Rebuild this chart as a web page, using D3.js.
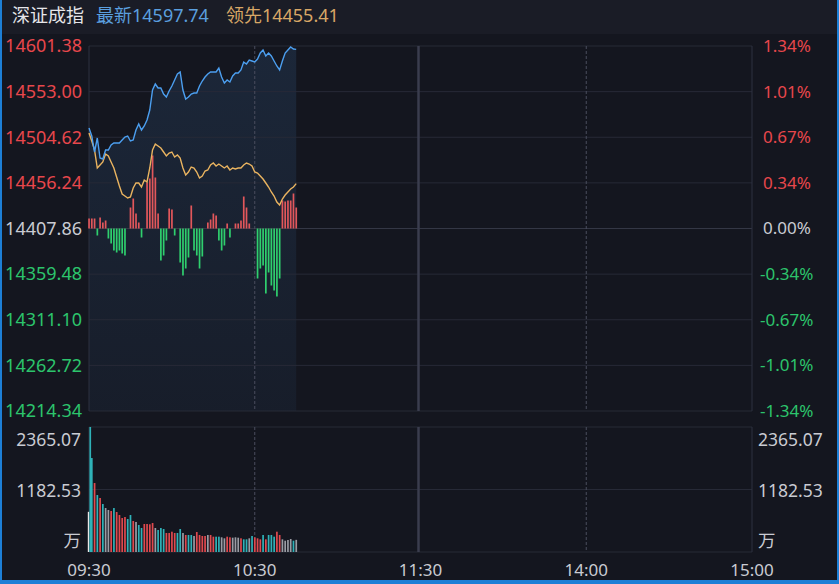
<!DOCTYPE html>
<html><head><meta charset="utf-8">
<script src="https://cdn.jsdelivr.net/npm/d3@7/dist/d3.min.js"></script>
<style>
html,body{margin:0;padding:0;background:#14161f;overflow:hidden;}
svg{display:block;}
text{font-family:"Noto Sans","Noto Sans CJK SC",sans-serif;}
</style></head>
<body><svg id="c" width="839" height="584"></svg>
<script>
// ---------- data ----------
const title = "深证成指";
const latestLabel = "最新", latestValue = "14597.74";
const leadLabel = "领先", leadValue = "14455.41";
const prevClose = 14407.86;
const priceTicks = [14601.38,14553.00,14504.62,14456.24,14407.86,14359.48,14311.10,14262.72,14214.34];
const priceTickLabels = ["14601.38","14553.00","14504.62","14456.24","14407.86","14359.48","14311.10","14262.72","14214.34"];
const pctTickLabels = ["1.34%","1.01%","0.67%","0.34%","0.00%","-0.34%","-0.67%","-1.01%","-1.34%"];
const timeTicks = [0,60,120,180,240];
const timeLabels = ["09:30","10:30","11:30","14:00","15:00"];
const volTicks = [2365.07,1182.53];
const volTickLabels = ["2365.07","1182.53"];
const volUnit = "万";
const auctionVol = 760;

const indexPrice = [14514.43,14505.94,14488.98,14503.82,14482.62,14481.55,14491.10,14491.10,14496.40,14498.52,
14498.52,14498.52,14501.70,14504.88,14505.94,14500.64,14501.70,14512.31,14518.67,14512.31,
14516.55,14522.91,14533.51,14554.72,14561.08,14556.84,14556.84,14550.48,14547.30,14553.66,
14558.96,14565.33,14571.69,14573.81,14554.72,14545.18,14547.30,14550.48,14551.54,14551.54,
14558.96,14564.27,14568.51,14571.69,14573.81,14573.81,14573.81,14578.05,14568.51,14562.15,
14565.33,14563.21,14569.57,14572.75,14572.75,14575.93,14584.41,14582.29,14586.53,14585.47,
14584.41,14587.59,14593.96,14597.14,14590.78,14593.96,14590.78,14585.47,14580.17,14575.93,
14585.47,14593.96,14597.14,14600.32,14598.20,14597.74];

const leadPrice = [14509.13,14500.64,14491.10,14472.01,14475.19,14478.37,14486.86,14484.74,14478.37,14472.01,
14462.47,14452.92,14444.44,14442.32,14440.20,14441.26,14450.80,14456.11,14456.11,14451.86,
14459.29,14457.17,14472.01,14491.10,14497.46,14495.34,14493.22,14488.98,14484.74,14487.92,
14488.98,14483.68,14485.80,14482.62,14472.01,14464.59,14467.77,14473.07,14472.01,14467.77,
14461.41,14463.53,14468.83,14469.89,14475.19,14477.31,14474.13,14476.25,14474.13,14472.01,
14474.13,14469.89,14472.01,14470.95,14472.01,14472.01,14475.19,14477.31,14476.25,14474.13,
14467.77,14466.71,14463.53,14460.35,14456.11,14451.86,14446.56,14442.32,14435.96,14432.78,
14439.14,14443.38,14446.56,14449.74,14451.86,14455.41];

const flow = [10,10,10,-7,11,6,8,-10,-15,-22,
-24,-22,-25,-27,0,21,30,15,6,-9,
0,46,50,73,51,15,-32,-27,-12,20,
19,-7,0,-34,-47,-40,-29,23,-22,-27,
-40,-28,0,6,9,15,13,-12,-22,-17,
5,-9,0,5,5,8,32,21,5,0,
0,-50,-40,-37,-65,-44,-57,-62,-68,-50,
28,27,28,28,35,21];

const volume = [2365,1778,1305,1078,1022,908,832,795,776,832,
757,700,643,662,624,700,587,568,511,454,
530,530,524,549,454,416,454,435,360,360,
384,360,360,435,360,322,322,322,303,378,
322,303,303,322,322,290,290,290,278,259,
290,278,271,278,271,259,240,240,259,303,
278,259,240,322,240,322,322,290,384,322,
240,214,227,246,214,230];
const volDir = "ttrtrtggrt rrrrttrgtt rrrrgtttrr rrttgrttgr rrrgrrttgg rrgggrttgt rrrtrtttrr ggggtg".replace(/ /g,"").split("");

// ---------- layout ----------
const L = 89, R = 752;
const mainTop = 46, mainBot = 411;
const volTop = 427, volBot = 552;

const svg = d3.select("#c");
const x = d3.scaleLinear().domain([0,240]).range([L,R]);
const y = d3.scaleLinear().domain([priceTicks[8],priceTicks[0]]).range([mainBot,mainTop]);
const yv = d3.scaleLinear().domain([0,volTicks[0]]).range([volBot,volTop]);
const fScale = d3.scaleLinear().domain([0,100]).range([0,100]);

const C = {bg:"#14161f", header:"#1a1c26", grid:"#272a37", border:"#2d3040",
  red:"#e8474c", green:"#2cc46c", white:"#c9cbd2", blue:"#4c9ff0", orange:"#eab460",
  teal:"#2fb2b8", vred:"#e0494e", gray:"#9a9ca4", frame:"#1d7fd6"};

svg.append("rect").attr("width",839).attr("height",584).attr("fill",C.bg);
svg.append("rect").attr("width",839).attr("height",34).attr("fill",C.header);

// header
const ht = svg.append("text").attr("x",12).attr("y",22).attr("font-size",18);
ht.append("tspan").attr("fill","#e6e6ea").text(title);
ht.append("tspan").attr("dx",12).attr("fill","#5a9fdf").text(latestLabel+latestValue);
ht.append("tspan").attr("dx",17).attr("fill","#d8a766").text(leadLabel+leadValue);

// gradient for area
const defs = svg.append("defs");
const g1 = defs.append("linearGradient").attr("id","ar").attr("x1",0).attr("y1",0).attr("x2",0).attr("y2",1);
g1.append("stop").attr("offset","0%").attr("stop-color","#4a8fd8").attr("stop-opacity",0.14);
g1.append("stop").attr("offset","100%").attr("stop-color","#4a8fd8").attr("stop-opacity",0.06);

// area under index line
svg.append("path").datum(indexPrice)
  .attr("d", d3.area().x((d,i)=>x(i)).y0(mainBot).y1(d=>y(d)))
  .attr("fill","url(#ar)");

// horizontal grid main
priceTicks.forEach((v,i)=>{
  svg.append("line").attr("x1",L).attr("x2",R).attr("y1",y(v)).attr("y2",y(v))
    .attr("stroke", i===4 ? "#343745" : C.grid).attr("stroke-width",1);
});
// volume grid
[volTop, yv(volTicks[1]), volBot].forEach(v=>{
  svg.append("line").attr("x1",L).attr("x2",R).attr("y1",v).attr("y2",v).attr("stroke",C.grid);
});
// verticals
[[mainTop,mainBot],[volTop,volBot]].forEach(([t,b])=>{
  svg.append("line").attr("x1",L).attr("x2",L).attr("y1",t).attr("y2",b).attr("stroke",C.border);
  svg.append("line").attr("x1",R).attr("x2",R).attr("y1",t).attr("y2",b).attr("stroke",C.border);
  svg.append("line").attr("x1",x(120)-2).attr("x2",x(120)-2).attr("y1",t).attr("y2",b).attr("stroke","#3a3d4e").attr("stroke-width",2.5);
  [60,180].forEach(m=>{
    svg.append("line").attr("x1",x(m)).attr("x2",x(m)).attr("y1",t).attr("y2",b)
      .attr("stroke","#4a4d5e").attr("stroke-dasharray","3,2");
  });
});

// flow bars
const base = y(prevClose);
svg.append("g").selectAll("rect").data(flow).join("rect")
  .attr("x",(d,i)=>x(i)-0.8).attr("width",1.7)
  .attr("y",d=> d>=0 ? base - fScale(d) : base)
  .attr("height",d=>fScale(Math.abs(d)))
  .attr("fill",d=> d>=0 ? "#e2575b" : "#2fcf6e");

// lines
svg.append("path").datum(leadPrice)
  .attr("d", d3.line().x((d,i)=>x(i)).y(d=>y(d)))
  .attr("fill","none").attr("stroke",C.orange).attr("stroke-width",1.4);
svg.append("path").datum(indexPrice)
  .attr("d", d3.line().x((d,i)=>x(i)).y(d=>y(d)))
  .attr("fill","none").attr("stroke",C.blue).attr("stroke-width",1.4);

// volume bars
svg.append("rect").attr("x",x(0)-1.2).attr("width",1.4).attr("y",yv(auctionVol)).attr("height",volBot-yv(auctionVol)).attr("fill","#e8e8e8");
svg.append("g").selectAll("rect").data(volume).join("rect")
  .attr("x",(d,i)=>x(i)+(i===0?0.4:-0.8)).attr("width",1.7)
  .attr("y",d=>yv(d)).attr("height",d=>volBot-yv(d))
  .attr("fill",(d,i)=> volDir[i]==="r" ? C.vred : volDir[i]==="t" ? C.teal : C.gray);

// axis labels
priceTicks.forEach((v,i)=>{
  svg.append("text").attr("x",82).attr("y",y(v)).attr("dy","0.35em").attr("text-anchor","end")
    .attr("font-size",18).attr("fill", i<4 ? C.red : i===4 ? C.white : C.green).text(priceTickLabels[i]);
  svg.append("text").attr("x",763).attr("y",y(v)).attr("dy","0.35em").attr("text-anchor","start")
    .attr("font-size",17).attr("fill", i<4 ? C.red : i===4 ? C.white : C.green)
    .attr("dx", pctTickLabels[i].startsWith("-") ? -3 : 0).text(pctTickLabels[i]);
});
// volume labels
const volLabY = [yv(volTicks[0])+13, yv(volTicks[1])+1];
volTickLabels.forEach((t,i)=>{
  svg.append("text").attr("x",81).attr("y",volLabY[i]).attr("dy","0.35em").attr("text-anchor","end")
    .attr("font-size",17.5).attr("fill",C.white).text(t);
  svg.append("text").attr("x",758).attr("y",volLabY[i]).attr("dy","0.35em")
    .attr("font-size",17.5).attr("fill",C.white).text(t);
});
svg.append("text").attr("x",81).attr("y",volBot-11).attr("dy","0.35em").attr("text-anchor","end")
  .attr("font-size",17.5).attr("fill",C.white).text(volUnit);
svg.append("text").attr("x",758).attr("y",volBot-11).attr("dy","0.35em")
  .attr("font-size",17.5).attr("fill",C.white).text(volUnit);

// time labels
timeTicks.forEach((m,i)=>{
  svg.append("text").attr("x",x(m)).attr("y",570).attr("dy","0.35em").attr("text-anchor","middle")
    .attr("font-size",17).attr("fill",C.white).text(timeLabels[i]);
});

// outer blue frame
svg.append("rect").attr("x",0).attr("y",0).attr("width",2).attr("height",584).attr("fill",C.frame);
svg.append("rect").attr("x",837).attr("y",0).attr("width",2).attr("height",584).attr("fill",C.frame);
svg.append("rect").attr("x",0).attr("y",580).attr("width",839).attr("height",4).attr("fill",C.frame);
</script></body></html>
